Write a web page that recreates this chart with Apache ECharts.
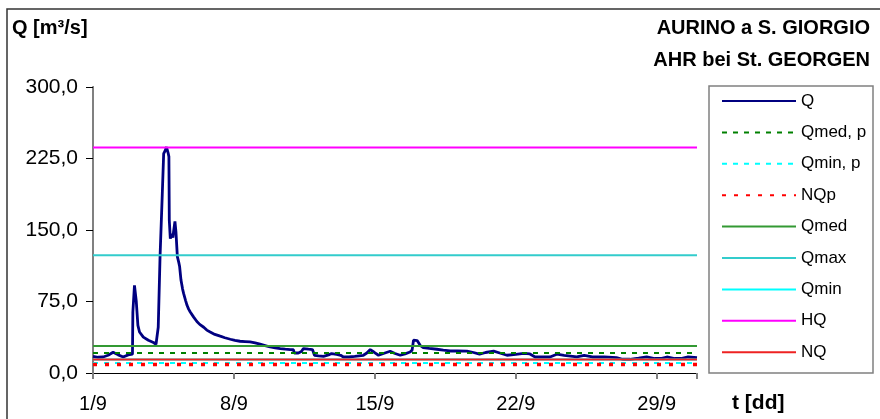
<!DOCTYPE html>
<html>
<head>
<meta charset="utf-8">
<script src="https://cdn.jsdelivr.net/npm/echarts@6/dist/echarts.min.js"></script>
<style>
html,body{margin:0;padding:0;background:#fff;}
#c{width:880px;height:419px;}
</style>
</head>
<body>
<div id="c"></div>
<script>
// Days since 1/9 00:00
const qDay = [0.0,0.25,0.5,0.75,1.0,1.25,1.5,1.75,1.96,1.98,2.04,2.06,2.13,2.15,2.21,2.23,2.31,2.5,2.75,3.0,3.13,3.22,3.24,3.31,3.33,3.42,3.44,3.49,3.51,3.58,3.65,3.69,3.74,3.77,3.79,3.84,3.92,3.97,4.0,4.07,4.12,4.16,4.19,4.26,4.3,4.37,4.45,4.5,4.6,4.67,4.75,4.83,5.0,5.16,5.3,5.5,5.65,5.82,6.05,6.32,6.55,6.82,7.05,7.3,7.55,7.8,8.05,8.3,8.55,8.8,9.05,9.3,9.55,9.8,9.95,10.0,10.2,10.35,10.45,10.7,10.9,11.0,11.2,11.45,11.7,11.85,12.1,12.3,12.44,12.7,13.0,13.43,13.6,13.77,13.95,14.18,14.5,14.76,15.0,15.26,15.5,15.75,15.85,15.92,16.1,16.25,16.4,16.7,17.08,17.4,17.74,18.1,18.57,18.9,19.2,19.5,19.9,20.2,20.56,21.0,21.4,21.7,21.96,22.3,22.7,23.04,23.4,24.03,24.4,24.8,25.4,26.0,26.3,26.67,27.1,27.5,27.9,28.2,28.5,28.9,29.2,29.56,30.0];
const qVal = [17.5,16.5,16.8,18.6,21.8,19,16.8,19,19.7,64,66,92,92,75,74,50,43,37.6,34.3,32,30.2,30.5,48,49,122,122,187,187,230,233,237,236,230,227,160,141,146,142,148,159,148,147,122,116,112,97.5,88,83.5,76,71,67,64,58.6,54,51,48,45,43,40.5,38.6,37,35.4,34.2,33.3,33,32.6,31.5,30.2,28.8,27.3,26.4,25.6,25,24.6,24.4,21,21,22.5,25.6,25,24.6,18.6,18,17.5,19,20.4,19.5,18.6,16.8,16.8,17.5,18.6,21,24.6,22,18.6,21,22.8,20.5,18.6,20,22,24,34.4,34,29,26.7,25.8,24.9,24,23.1,23.2,23,21.5,19.7,21.5,23,21,18.6,19.5,20.5,20,16.8,17,16.8,19.7,18.6,16.8,18.6,16.8,17,16.2,14.4,14.4,15.5,16.8,15.2,15.2,16.8,15.2,15.2,16.8,16.2];

const seriesNames = ['Q','Qmed, p','Qmin, p','NQp','Qmed','Qmax','Qmin','HQ','NQ'];
// reference levels (m3/s) for the horizontal lines, in legend order after Q
const refLevels = [21.0, 10.5, 8.8, 28.4, 123.4, 14.1, 236.5, 14.1];
const dayRange = [0, 30];
const xTickLabels = ['1/9','8/9','15/9','22/9','29/9'];
const yTickLabels = ['0,0','75,0','150,0','225,0','300,0'];

const styles = [
  {color:'#000080', width:2.8, type:'solid'},
  {color:'#008000', width:2, type:[5,6]},
  {color:'#00ffff', width:2, type:[5,6]},
  {color:'#ff0000', width:3.5, type:[4,8]},
  {color:'#339933', width:2, type:'solid'},
  {color:'#33cccc', width:2, type:'solid'},
  {color:'#00ffff', width:2, type:'solid'},
  {color:'#ff00ff', width:2, type:'solid'},
  {color:'#ee2222', width:2, type:'solid'}
];

const series = seriesNames.map((name, i) => {
  const data = i === 0
    ? qDay.map((d, k) => [d, qVal[k]])
    : dayRange.map(d => [d, refLevels[i - 1]]);
  return {
    name, type:'line', data, symbol:'none', animation:false,
    lineStyle:{color:styles[i].color, width:styles[i].width, type:styles[i].type},
    itemStyle:{color:styles[i].color},
    xAxisIndex:0, yAxisIndex:0, z: 2 + i
  };
});

const font = 'Liberation Sans, Arial, sans-serif';
const titleStyle = {fontFamily:font, fontSize:20, fontWeight:'bold', color:'#000', lineHeight:24};
const chart = echarts.init(document.getElementById('c'), null, {renderer:'canvas'});
chart.setOption({
  animation:false,
  backgroundColor:'#fff',
  textStyle:{fontFamily:font},
  grid:{left:93, top:87, right:183, bottom:46, containLabel:false},
  title:[
    {text:'Q [m³/s]', left:12, top:16, padding:0, textStyle:titleStyle},
    {text:'AURINO a S. GIORGIO', right:10, top:16, padding:0, textStyle:titleStyle},
    {text:'AHR bei St. GEORGEN', right:10, top:48, padding:0, textStyle:titleStyle},
    {text:'t [dd]', left:732, top:391, padding:0, textStyle:Object.assign({}, titleStyle, {fontSize:21})}
  ],
  legend:{
    orient:'vertical', left:721, top:92, padding:0,
    itemWidth:74, itemHeight:18, itemGap:13.4,
    data:seriesNames,
    itemStyle:{opacity:0},
    textStyle:{fontFamily:font, fontSize:17, color:'#000', lineHeight:18},
    selectedMode:false
  },
  xAxis:[
    {type:'value', min:dayRange[0], max:dayRange[1], interval:7,
     axisLine:{show:true, lineStyle:{color:'#000', width:1}},
     axisTick:{show:true, inside:false, length:6, lineStyle:{color:'#808080', width:2}},
     splitLine:{show:false},
     axisLabel:{margin:21, fontFamily:font, fontSize:20, color:'#000',
       formatter:v => (v % 7 === 0 && xTickLabels[v/7] !== undefined) ? xTickLabels[v/7] : ''}},
    {type:'value', position:'top', min:dayRange[0], max:dayRange[1],
     axisLine:{show:true, lineStyle:{color:'#000', width:1}},
     axisTick:{show:false}, axisLabel:{show:false}, splitLine:{show:false}}
  ],
  yAxis:[
    {type:'value', min:0, max:300, interval:75,
     axisLine:{show:true, lineStyle:{color:'#000', width:1}},
     axisTick:{show:true, inside:false, length:7, lineStyle:{color:'#000'}},
     splitLine:{show:false},
     axisLabel:{margin:15, fontFamily:font, fontSize:21, color:'#000',
       formatter:v => yTickLabels[Math.round(v/75)]}},
    {type:'value', position:'right', min:0, max:300,
     axisLine:{show:true, lineStyle:{color:'#808080', width:2}},
     axisTick:{show:false}, axisLabel:{show:false}, splitLine:{show:false}}
  ],
  graphic:[
    {type:'rect', shape:{x:7, y:9, width:900, height:500}, style:{fill:null, stroke:'#333', lineWidth:1.5}, silent:true, z:-1},
    {type:'rect', shape:{x:709, y:86, width:164, height:287}, style:{fill:null, stroke:'#808080', lineWidth:1.5}, silent:true}
  ],
  series
});
</script>
</body>
</html>
